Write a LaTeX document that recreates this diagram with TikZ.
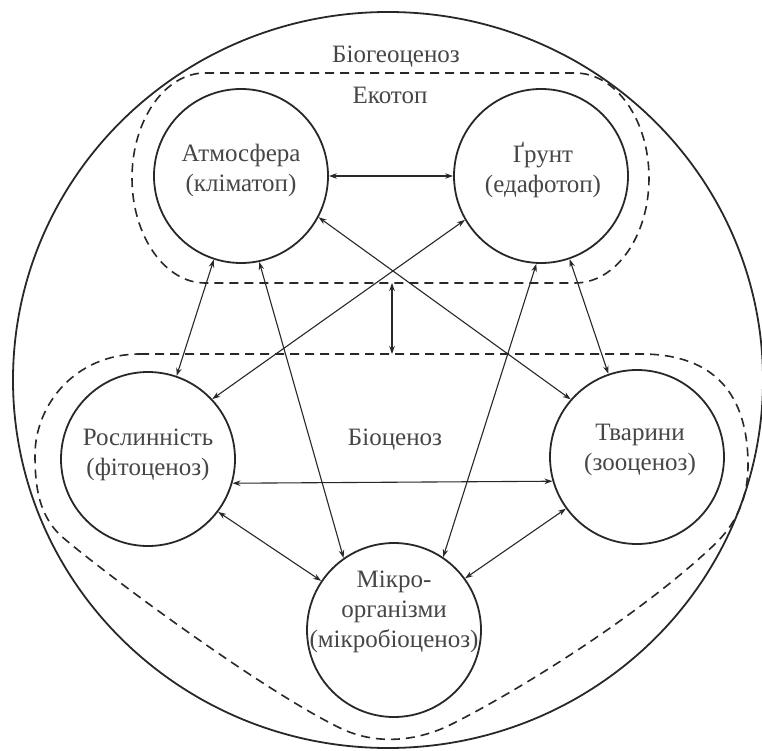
\documentclass[tikz,border=0pt]{standalone}
\usepackage{fontspec}
\setmainfont{Liberation Serif}
\usetikzlibrary{arrows.meta}
\definecolor{inkc}{RGB}{40,40,40}
\definecolor{textc}{RGB}{70,70,70}
\begin{document}
\begin{tikzpicture}[x=1pt,y=-1pt,
  circ/.style={draw=inkc, line width=1.8pt, circle, minimum size=174pt, inner sep=0pt},
  txt/.style={text=textc, font=\fontsize{25}{30}\selectfont, align=center, inner sep=0pt},
  conn/.style={draw=inkc, line width=1.1pt, {Stealth[length=8pt,width=5.5pt]}-{Stealth[length=8pt,width=5.5pt]}},
  zone/.style={draw=inkc, line width=1.6pt, dash pattern=on 9pt off 6pt},
  outerline/.style={draw=inkc, line width=1.8pt}]
\fill[white] (0,0) rectangle (762,751);
\useasboundingbox (0,0) rectangle (762,751);

% outer biogeocenosis boundary
\draw[outerline] (388,380) ellipse [x radius=375pt, y radius=368pt];

% ecotope dashed boundary
\draw[zone] (205,73) -- (575,73) .. controls (616,73) and (649,120) .. (649,178)
  .. controls (649,236) and (616,283) .. (575,283) -- (205,283)
  .. controls (165,283) and (132,236) .. (132,178)
  .. controls (132,120) and (165,73) .. (205,73) -- cycle;

% biocenosis dashed boundary
\draw[zone] (140,354) -- (641,354)
  .. controls (715,354) and (748,395) .. (748,465)
  .. controls (748,500) and (735,525) .. (714,545)
  .. controls (640,615) and (520,690) .. (450,725)
  .. controls (415,742) and (375,745) .. (340,728)
  .. controls (260,689) and (100,570) .. (60,535)
  .. controls (40,515) and (35,490) .. (35,455)
  .. controls (35,405) and (75,354) .. (140,354) -- cycle;

% titles
\node[txt] (tbgc) at (396,57) {Біогеоценоз};
\node[txt] (teco) at (390,95) {Екотоп};
\node[txt] (tbio) at (395,440) {Біоценоз};

% component circles
\node[circ] (atm) at (241,176) {};
\node[circ] (gr)  at (541,176) {};
\node[circ] (ros) at (148,459) {};
\node[circ] (tv)  at (637,457) {};
\node[circ] (mik) at (394,630) {};

\node[txt] (atmL) at (241,170) {Атмосфера\\(кліматоп)};
\node[txt] (grL)  at (543,170) {Ґрунт\\(едафотоп)};
\node[txt] (rosL) at (148,455) {Рослинність\\(фітоценоз)};
\node[txt] (tvL)  at (640,450) {Тварини\\(зооценоз)};
\node[txt] (mikL) at (394,612) {Мікро-\\організми\\(мікробіоценоз)};

% connectors
\draw[conn] (atm.0) -- (gr.180);
\draw[conn] (atm.-28) -- (tv.139);
\draw[conn] (gr.-150) -- (ros.43);
\draw[conn] (atm.-108) -- (ros.71);
\draw[conn] (atm.-78) -- (mik.125);
\draw[conn] (gr.-93) -- (mik.56);
\draw[conn] (gr.-71) -- (tv.109);
\draw[conn] (ros.-16) -- (tv.-164);
\draw[conn] (ros.-37) -- (mik.146);
\draw[conn] (tv.-144) -- (mik.36);

% link between ecotope and biocenosis
\coordinate (ecoB) at (392,283);
\coordinate (bioT) at (392,354);
\draw[conn] (ecoB) -- (bioT);
\end{tikzpicture}
\end{document}
